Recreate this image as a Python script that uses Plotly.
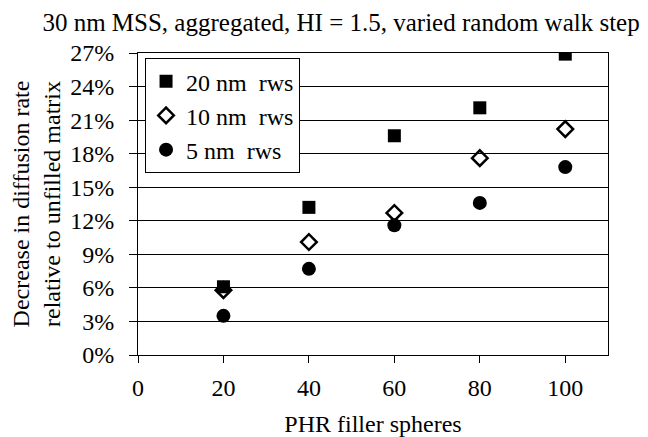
import plotly.graph_objects as go

phr = [20, 40, 60, 80, 100]
rws20 = [6.1, 13.2, 19.6, 22.1, 26.9]
rws10 = [5.8, 10.1, 12.7, 17.6, 20.2]
rws5 = [3.5, 7.7, 11.6, 13.6, 16.8]
y_ticks = [0, 3, 6, 9, 12, 15, 18, 21, 24, 27]
x_ticks = [0, 20, 40, 60, 80, 100]

FONT = "Liberation Serif, Times New Roman, serif"

fig = go.Figure()
fig.add_trace(go.Scatter(x=phr, y=rws20, mode="markers", name="20 nm  rws",
                         marker=dict(symbol="square", size=13, color="black")))
fig.add_trace(go.Scatter(x=phr, y=rws10, mode="markers", name="10 nm  rws",
                         marker=dict(symbol="diamond-open", size=12, color="black",
                                     line=dict(width=2.5, color="black"))))
fig.add_trace(go.Scatter(x=phr, y=rws5, mode="markers", name="5 nm  rws",
                         marker=dict(symbol="circle", size=14, color="black")))

fig.update_layout(
    width=632, height=429,
    margin=dict(l=130, r=32, t=45, b=82),
    paper_bgcolor="white", plot_bgcolor="white",
    font=dict(family=FONT, size=24, color="black"),
    showlegend=True,
    legend=dict(x=0.015, y=0.983, xanchor="left", yanchor="top",
                bordercolor="black", borderwidth=1, bgcolor="white",
                font=dict(family=FONT, size=24), itemwidth=30,
                tracegroupgap=0),
    title=dict(text="30 nm MSS, aggregated, HI = 1.5, varied random walk step",
               x=0.527, xanchor="center", y=1 - 14 / 429, yanchor="middle",
               font=dict(family=FONT, size=25)),
)
fig.update_xaxes(range=[0, 110], tickvals=x_ticks, ticktext=[str(v) for v in x_ticks],
                 showgrid=False, zeroline=False, showline=True, linecolor="black",
                 linewidth=1, mirror=True, ticks="outside", ticklen=7, tickcolor="black",
                 tickfont=dict(family=FONT, size=24), ticklabelstandoff=4,
                 automargin=False,
                 title=dict(text="PHR filler spheres", font=dict(family=FONT, size=24),
                            standoff=20))
fig.update_yaxes(range=[0, 27], tickvals=y_ticks, ticktext=[f"{v}%" for v in y_ticks],
                 showgrid=True, gridcolor="black", gridwidth=1, zeroline=False,
                 showline=True, linecolor="black", linewidth=1, mirror=True,
                 ticks="outside", ticklen=8, tickcolor="black",
                 tickfont=dict(family=FONT, size=24), ticklabelstandoff=10,
                 automargin=False,
                 title=dict(text="Decrease in diffusion rate<br>relative to unfilled matrix",
                            font=dict(family=FONT, size=24), standoff=10))

fig.write_html("out.html")
